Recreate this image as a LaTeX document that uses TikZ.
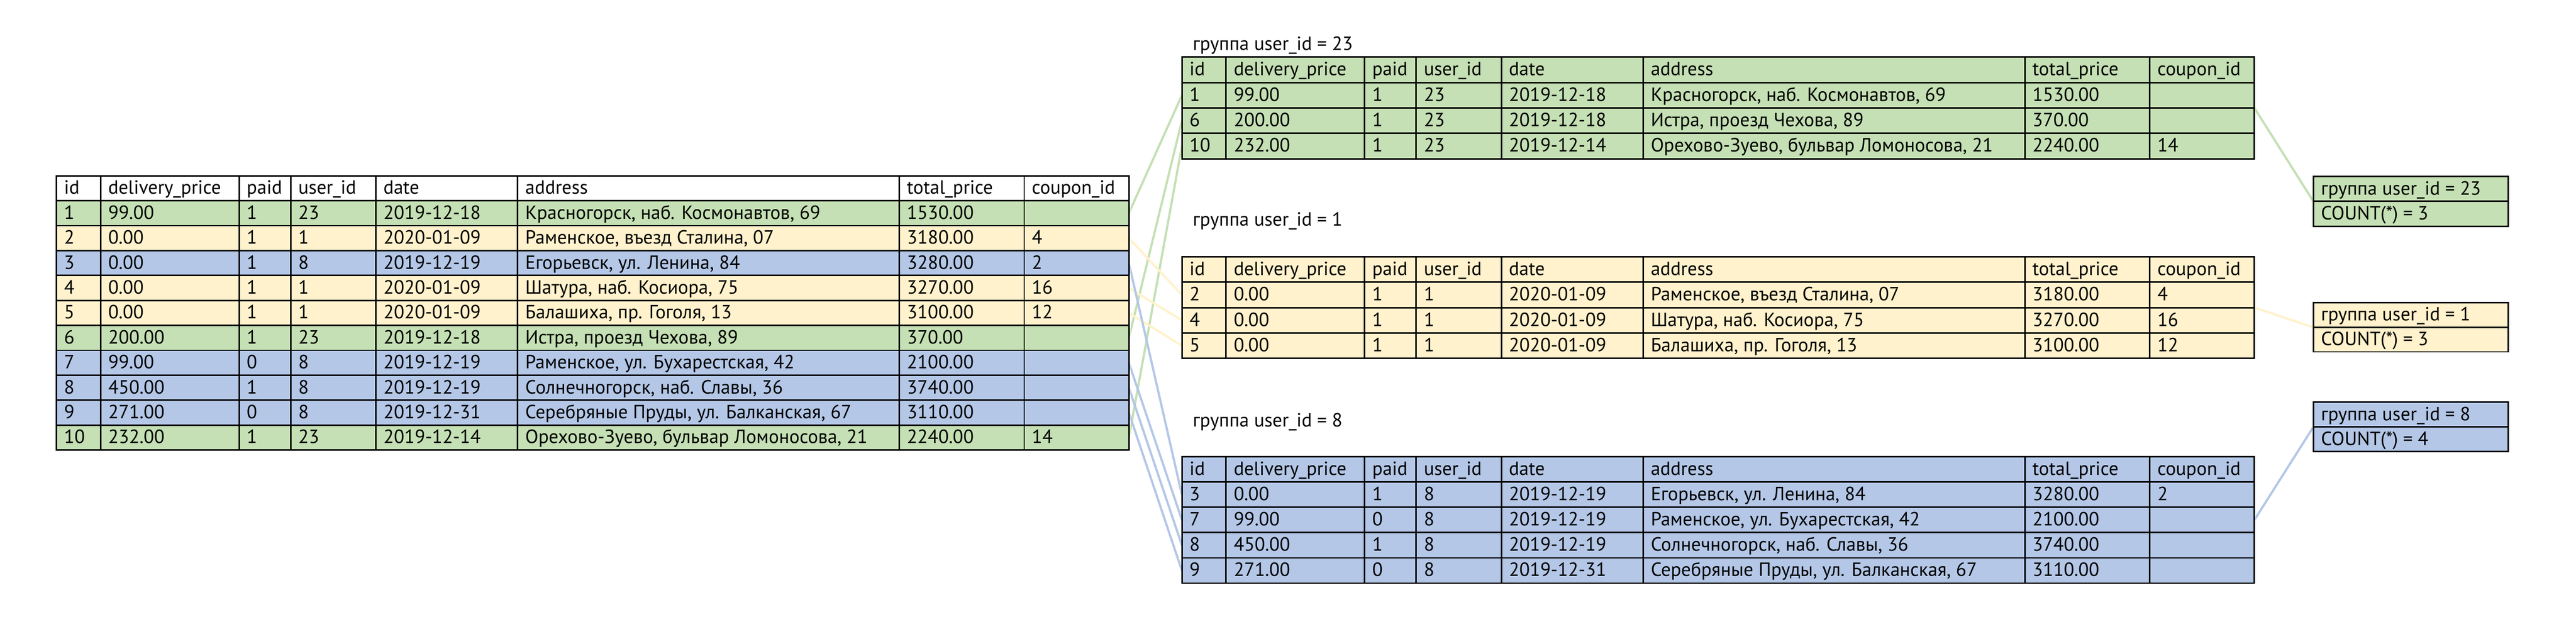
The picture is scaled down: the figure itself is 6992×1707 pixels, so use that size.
\documentclass[tikz,border=0pt]{standalone}
\usepackage{fontspec}
\setmainfont{PT Sans}
\usetikzlibrary{fit,backgrounds}
\definecolor{cg}{HTML}{C5E0B4}
\definecolor{cy}{HTML}{FFF2CC}
\definecolor{cb}{HTML}{B4C7E7}
\tikzset{
  rowbox/.style={draw=black, line width=1pt, rectangle, anchor=north west, inner sep=0pt, outer sep=0pt, minimum width=727.75pt},
  boxrow/.style={draw=black, line width=1pt, rectangle, anchor=north west, inner sep=0pt, outer sep=0pt, minimum width=132.25pt},
  ctext/.style={anchor=base west, inner sep=0pt, font=\fontsize{13pt}{15pt}\selectfont},
  gridline/.style={draw=black, line width=1pt},
  link/.style={line width=1.5pt},
}
\newcommand{\mktable}[6]{%
  \foreach \cf/\vA/\vB/\vC/\vD/\vE/\vF/\vG/\vH [count=\rr from 0] in {#6} {%
    \pgfmathsetmacro\yt{#3+\rr*#4}%
    \pgfmathsetmacro\yb{\yt+#4/2+16}%
    \node[rowbox, fill=\cf, minimum height=#4*0.25pt] (#1-\rr) at (#2,\yt) {};
    \node[ctext] (#1-\rr-a) at (#2+20,\yb) {\vA};
    \node[ctext] (#1-\rr-b) at (#2+140,\yb) {\vB};
    \node[ctext] (#1-\rr-c) at (#2+516,\yb) {\vC};
    \node[ctext] (#1-\rr-d) at (#2+656,\yb) {\vD};
    \node[ctext] (#1-\rr-e) at (#2+887,\yb) {\vE};
    \node[ctext] (#1-\rr-f) at (#2+1272,\yb) {\vF};
    \node[ctext] (#1-\rr-g) at (#2+2308,\yb) {\vG};
    \node[ctext] (#1-\rr-h) at (#2+2647,\yb) {\vH};
  }%
  \foreach \xx in {120,496,636,867,1252,2288,2627}
    \draw[gridline] (#2+\xx,#3) -- (#2+\xx,#3+#5*#4);
}
\begin{document}
\begin{tikzpicture}[x=0.25pt,y=-0.25pt]
\useasboundingbox (0,0) rectangle (6992,1707);

% main table
\mktable{m}{153}{477}{67.7}{11}{white/id/delivery\_price/paid/user\_id/date/address/total\_price/coupon\_id,
cg/1/99.00/1/23/2019-12-18/{Красногорск, наб. Космонавтов, 69}/1530.00/{},
cy/2/0.00/1/1/2020-01-09/{Раменское, въезд Сталина, 07}/3180.00/4,
cb/3/0.00/1/8/2019-12-19/{Егорьевск, ул. Ленина, 84}/3280.00/2,
cy/4/0.00/1/1/2020-01-09/{Шатура, наб. Косиора, 75}/3270.00/16,
cy/5/0.00/1/1/2020-01-09/{Балашиха, пр. Гоголя, 13}/3100.00/12,
cg/6/200.00/1/23/2019-12-18/{Истра, проезд Чехова, 89}/370.00/{},
cb/7/99.00/0/8/2019-12-19/{Раменское, ул. Бухарестская, 42}/2100.00/{},
cb/8/450.00/1/8/2019-12-19/{Солнечногорск, наб. Славы, 36}/3740.00/{},
cb/9/271.00/0/8/2019-12-31/{Серебряные Пруды, ул. Балканская, 67}/3110.00/{},
cg/10/232.00/1/23/2019-12-14/{Орехово-Зуево, бульвар Ломоносова, 21}/2240.00/14}

% group 23
\node[ctext] (la) at (3237,136) {группа user\_id = 23};
\mktable{ga}{3208}{155}{69}{4}{cg/id/delivery\_price/paid/user\_id/date/address/total\_price/coupon\_id,
cg/1/99.00/1/23/2019-12-18/{Красногорск, наб. Космонавтов, 69}/1530.00/{},
cg/6/200.00/1/23/2019-12-18/{Истра, проезд Чехова, 89}/370.00/{},
cg/10/232.00/1/23/2019-12-14/{Орехово-Зуево, бульвар Ломоносова, 21}/2240.00/14}
\node[fit=(ga-0)(ga-3), inner sep=0pt, outer sep=0pt] (ga) {};

% group 1
\node[ctext] (lb) at (3237,613) {группа user\_id = 1};
\mktable{gb}{3208}{697}{69}{4}{cy/id/delivery\_price/paid/user\_id/date/address/total\_price/coupon\_id,
cy/2/0.00/1/1/2020-01-09/{Раменское, въезд Сталина, 07}/3180.00/4,
cy/4/0.00/1/1/2020-01-09/{Шатура, наб. Косиора, 75}/3270.00/16,
cy/5/0.00/1/1/2020-01-09/{Балашиха, пр. Гоголя, 13}/3100.00/12}
\node[fit=(gb-0)(gb-3), inner sep=0pt, outer sep=0pt] (gb) {};

% group 8
\node[ctext] (lc) at (3237,1158) {группа user\_id = 8};
\mktable{gc}{3208}{1240}{68.6}{5}{cb/id/delivery\_price/paid/user\_id/date/address/total\_price/coupon\_id,
cb/3/0.00/1/8/2019-12-19/{Егорьевск, ул. Ленина, 84}/3280.00/2,
cb/7/99.00/0/8/2019-12-19/{Раменское, ул. Бухарестская, 42}/2100.00/{},
cb/8/450.00/1/8/2019-12-19/{Солнечногорск, наб. Славы, 36}/3740.00/{},
cb/9/271.00/0/8/2019-12-31/{Серебряные Пруды, ул. Балканская, 67}/3110.00/{}}
\node[fit=(gc-0)(gc-4), inner sep=0pt, outer sep=0pt] (gc) {};

% count boxes
\node[boxrow, fill=cg, minimum height=16.875pt] (ba-1) at (6279,479) {};
\node[boxrow, fill=cg, minimum height=16.875pt] (ba-2) at (6279,546.5) {};
\node[ctext] (ba-1-t) at (6299,529) {группа user\_id = 23};
\node[ctext] (ba-2-t) at (6299,596.5) {COUNT(*) = 3};

\node[boxrow, fill=cy, minimum height=16.625pt] (bb-1) at (6279,822) {};
\node[boxrow, fill=cy, minimum height=16.625pt] (bb-2) at (6279,888.5) {};
\node[ctext] (bb-1-t) at (6299,871) {группа user\_id = 1};
\node[ctext] (bb-2-t) at (6299,937.5) {COUNT(*) = 3};

\node[boxrow, fill=cb, minimum height=16.75pt] (bc-1) at (6279,1092) {};
\node[boxrow, fill=cb, minimum height=16.75pt] (bc-2) at (6279,1159) {};
\node[ctext] (bc-1-t) at (6299,1141.5) {группа user\_id = 8};
\node[ctext] (bc-2-t) at (6299,1208.5) {COUNT(*) = 4};

\begin{scope}[on background layer]
  \fill[white] (0,0) rectangle (6992,1707);
  \draw[link, cg] (m-1.east) -- (ga-1.west);
  \draw[link, cg] (m-6.east) -- (ga-2.west);
  \draw[link, cg] (m-10.east) -- (ga-3.west);
  \draw[link, cy] (m-2.east) -- (gb-1.west);
  \draw[link, cy] (m-4.east) -- (gb-2.west);
  \draw[link, cy] (m-5.east) -- (gb-3.west);
  \draw[link, cb] (m-3.east) -- (gc-1.west);
  \draw[link, cb] (m-7.east) -- (gc-2.west);
  \draw[link, cb] (m-8.east) -- (gc-3.west);
  \draw[link, cb] (m-9.east) -- (gc-4.west);
  \draw[link, cg] (ga.east) -- (ba-1.south west);
  \draw[link, cy] (gb.east) -- (bb-1.south west);
  \draw[link, cb] (gc.east) -- (bc-1.south west);
\end{scope}
\end{tikzpicture}
\end{document}
